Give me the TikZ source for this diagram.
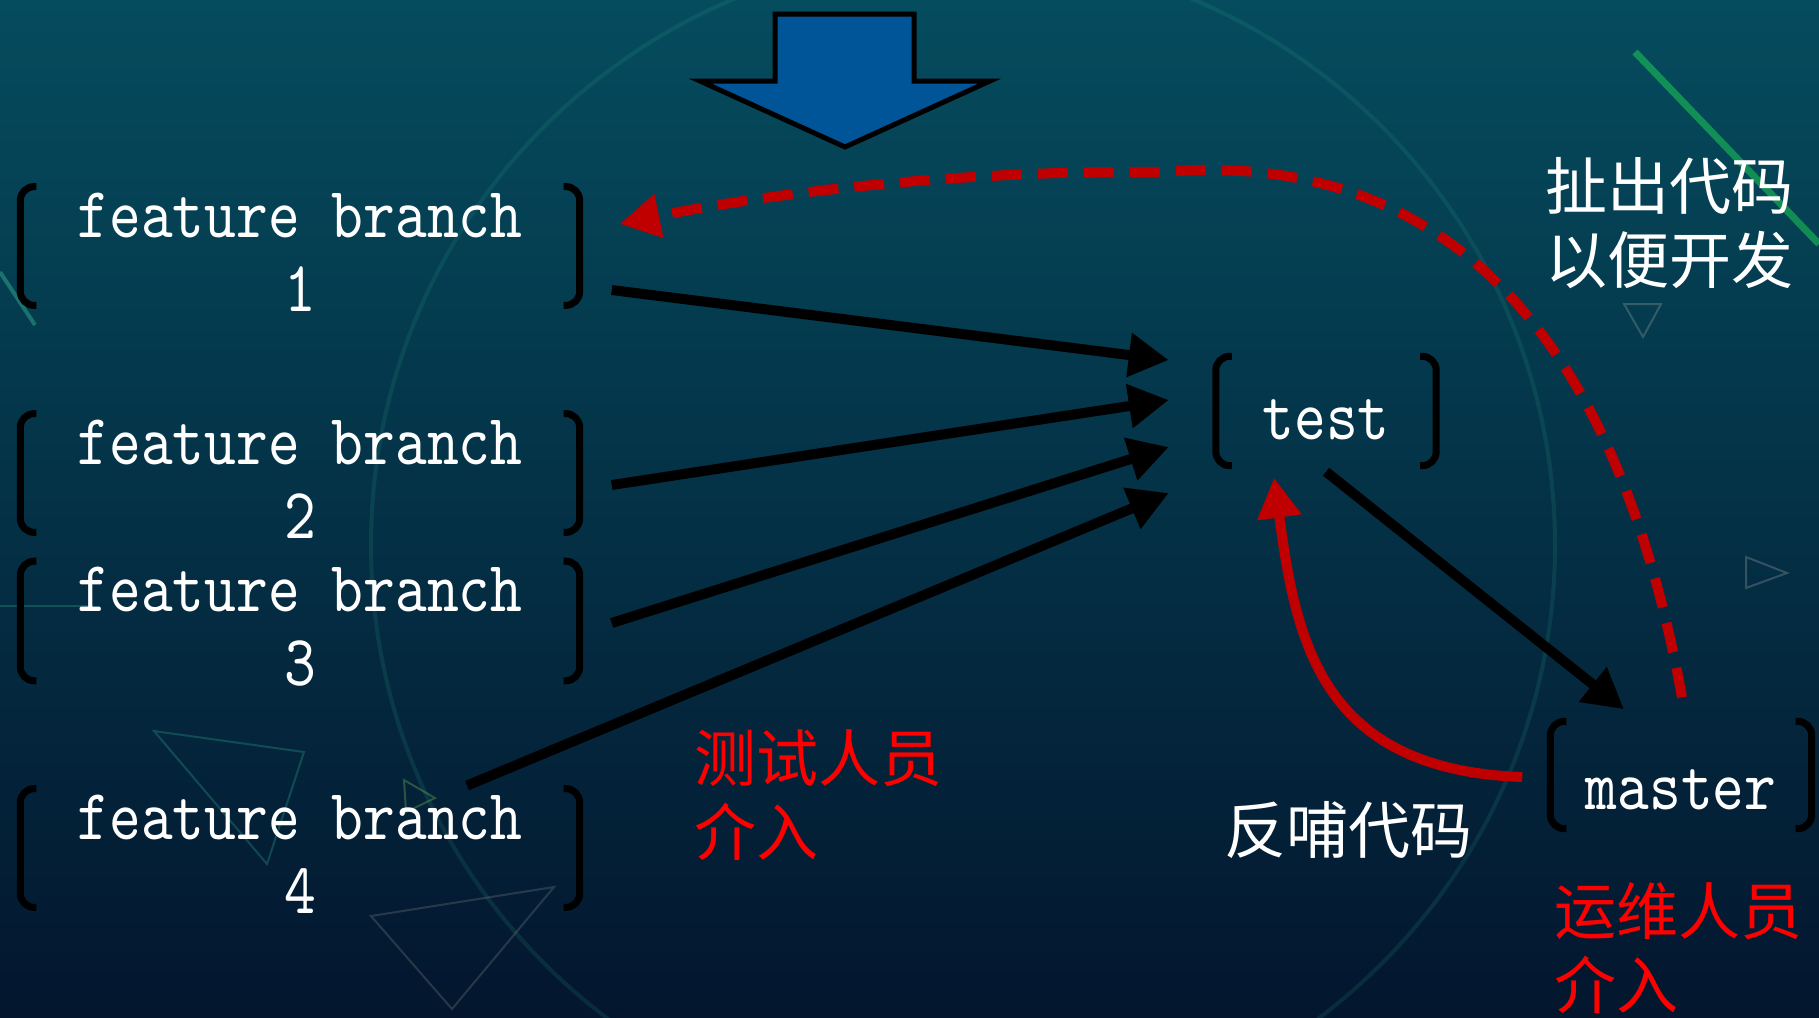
\documentclass[tikz,border=0pt]{standalone}
\usepackage{fontspec}
\usepackage{tikz}
\usetikzlibrary{arrows.meta, calc}
\newfontfamily\cjk{Noto Sans CJK SC}
\newfontfamily\codefont{lmmono10-regular.otf}[FakeStretch=0.84]
\definecolor{bgtop}{RGB}{5,76,94}
\definecolor{bgmid}{RGB}{4,56,80}
\definecolor{bgbot}{RGB}{3,22,46}
\definecolor{arrowblue}{RGB}{0,84,152}
\definecolor{darkred}{RGB}{192,0,0}
\definecolor{decogreen}{RGB}{46,170,140}
\tikzstyle{branchbox} = [rectangle, minimum width=559pt, minimum height=111pt, text centered, align=center, text=white, font=\fontsize{72}{74}\codefont, inner sep=0pt]
\tikzstyle{bracket} = [line width=7pt, rounded corners=14pt, black]
\tikzstyle{arrow} = [line width=10pt, -{Triangle[length=40pt,width=42pt]}]
\tikzstyle{redarrow} = [arrow, darkred]
\tikzstyle{dasharrow} = [redarrow, dash pattern=on 30pt off 16pt]
\tikzstyle{note} = [anchor=west, align=left, inner sep=0pt, font=\fontsize{62}{74}\cjk]

\begin{document}
\begin{tikzpicture}[x=1pt, y=-1pt, node distance=227pt]
		% background
		\shade[top color=bgtop, middle color=bgmid, bottom color=bgbot] (0,0) rectangle (1819,1017);
		\useasboundingbox (0,0) rectangle (1819,1017);
		\begin{scope}[opacity=0.3, line width=2pt]
		\draw[decogreen, opacity=0.15, line width=4pt] (963,545) circle (592);
		\draw[decogreen] (154,731) -- (304,752) -- (267,864) -- cycle;
		\draw[decogreen!60!yellow] (404,780) -- (435,798) -- (406,812) -- cycle;
		\draw[gray] (371,916) -- (554,887) -- (452,1009) -- cycle;
		\draw[gray!70] (1624,304) -- (1661,304) -- (1643,337) -- cycle;
		\draw[gray!70] (1746,557) -- (1787,573) -- (1746,588) -- cycle;
		\draw[decogreen] (0,606) -- (93,606);
		\end{scope}
		\draw[decogreen!60!green, line width=7pt, opacity=0.55] (1635,52) -- (1819,244);
		\draw[decogreen, line width=4pt, opacity=0.5] (0,272) -- (35,325);

		% blue arrow
		\draw[fill=arrowblue, line width=5pt, line join=miter] (775,14) -- (914,14) -- (914,81) -- (990,81) -- (845,147) -- (700,81) -- (775,81) -- cycle;

		% nodes (placed a little low, brackets are drawn back up)
		\node (fb1) [branchbox] at (300,252) {feature branch\\1};
		\node (fb2) [branchbox, below of=fb1] {feature branch\\2};
		\node (fb3) [branchbox, below of=fb2, node distance=148pt] {feature branch\\3};
		\node (fb4) [branchbox, below of=fb3] {feature branch\\4};
		\node (test) [branchbox, minimum width=220pt, minimum height=109pt] at (1326,420) {test};
		\node (master) [branchbox, minimum width=261pt, minimum height=107pt] at (1681,790) {master};

		\foreach \n/\s in {fb1/6,fb2/6,fb3/6,fb4/6,test/9,master/15}
		{
			\draw[bracket] ([shift={(16,-\s)}]\n.north west) -- ([shift={(0,-\s)}]\n.north west) -- ([shift={(0,-\s)}]\n.south west) -- ([shift={(16,-\s)}]\n.south west);
			\draw[bracket] ([shift={(-16,-\s)}]\n.north east) -- ([shift={(0,-\s)}]\n.north east) -- ([shift={(0,-\s)}]\n.south east) -- ([shift={(-16,-\s)}]\n.south east);
		}

		% labels
		\node (pull) [note, text=white] at (1545,223) {扯出代码\\以便开发};
		\node (testers) [note, text=red] at (694,795) {测试人员\\介入};
		\node (feed) [note, text=white] at (1224,830) {反哺代码};
		\node (ops) [note, text=red] at (1554,948) {运维人员\\介入};

		% connectors
		\draw [arrow] ([shift={(32,38)}]fb1.east) -- ([shift={(-47,-60)}]test.west);
		\draw [arrow] ([shift={(32,6)}]fb2.east) -- ([shift={(-47,-20)}]test.west);
		\draw [arrow] ([shift={(32,-4)}]fb3.east) -- ([shift={(-47,27)}]test.west);
		\draw [arrow] ([shift={(167,-9)}]fb4.north) -- ([shift={(-47,73)}]test.west);
		\draw [arrow] ([shift={(0,-3)}]test.south) -- ([shift={(-57,-27)}]master.north);
		\draw [redarrow] ([shift={(-28,-13)}]master.west) .. controls (1320,770) and (1296,640) .. ([shift={(-52,3)}]test.south);
		\draw [dasharrow] ([shift={(1,-39)}]master.north) .. controls (1610,300) and (1420,150) .. (1160,172) .. controls (950,170) and (760,195) .. ([shift={(40,-28)}]fb1.east);
\end{tikzpicture}
\end{document}
